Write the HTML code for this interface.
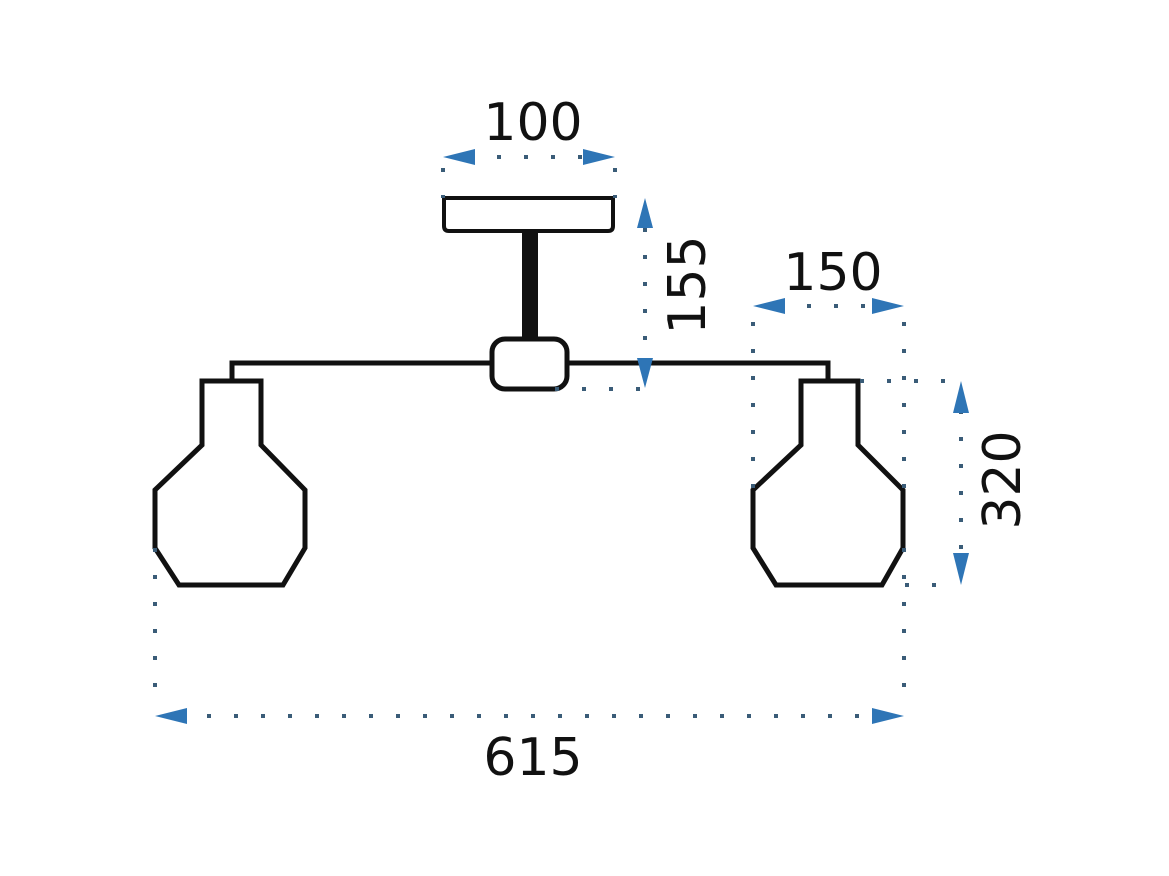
<!DOCTYPE html>
<html><head><style>body{margin:0;background:#fff}svg{display:block}</style></head><body>
<svg width="1169" height="876" viewBox="0 0 1169 876" xmlns="http://www.w3.org/2000/svg">
<rect width="1169" height="876" fill="#fff"/>
<g fill="none" stroke="#111" stroke-width="5" stroke-linejoin="miter">
<path d="M444 198 H613 V226 Q613 231 608 231 H449 Q444 231 444 226 Z" stroke-width="4"/>
<path d="M232 381 V363 H828 V381"/>
<path d="M202 381 H261 V445 L305 490 V548 L283 585 H179 L155 548 V490 L202 445 Z"/>
<path d="M801 381 H858 V445 L903 490 V548 L882 585 H776 L753 548 V490 L801 445 Z"/>
</g>
<rect x="522" y="232" width="16" height="108" fill="#111"/>
<rect x="492" y="339" width="75" height="50" rx="13" fill="#fff" stroke="#111" stroke-width="5"/>
<g stroke="#3a5c78" stroke-width="4" stroke-dasharray="4 23" fill="none">
<path d="M443 168 V198 M615 168 V198 M470 157 H590"/>
<path d="M645 228 V360 M555 389 H645"/>
<path d="M753 322 V488 M904 322 V488 M780 306 H880"/>
<path d="M860 381 H945 M905 585 H945 M961 410 V560"/>
<path d="M155 548 V700 M904 548 V700 M180 716 H880"/>
</g>
<g fill="#2e75b6">
<polygon points="443,157 475,149 475,165"/><polygon points="615,157 583,149 583,165"/>
<polygon points="645,198 637,228 653,228"/><polygon points="645,388 637,358 653,358"/>
<polygon points="753,306 785,298 785,314"/><polygon points="904,306 872,298 872,314"/>
<polygon points="961,381 953,413 969,413"/><polygon points="961,585 953,553 969,553"/>
<polygon points="155,716 187,708 187,724"/><polygon points="904,716 872,708 872,724"/>
</g>
<g font-family="'DejaVu Sans','Liberation Sans',sans-serif" font-size="52" fill="#111" text-anchor="middle">
<text x="533" y="140">100</text>
<text x="833" y="290">150</text>
<text x="533" y="775">615</text>
<text transform="translate(705,285) rotate(-90)">155</text>
<text transform="translate(1020,480) rotate(-90)">320</text>
</g>
</svg>
</body></html>
